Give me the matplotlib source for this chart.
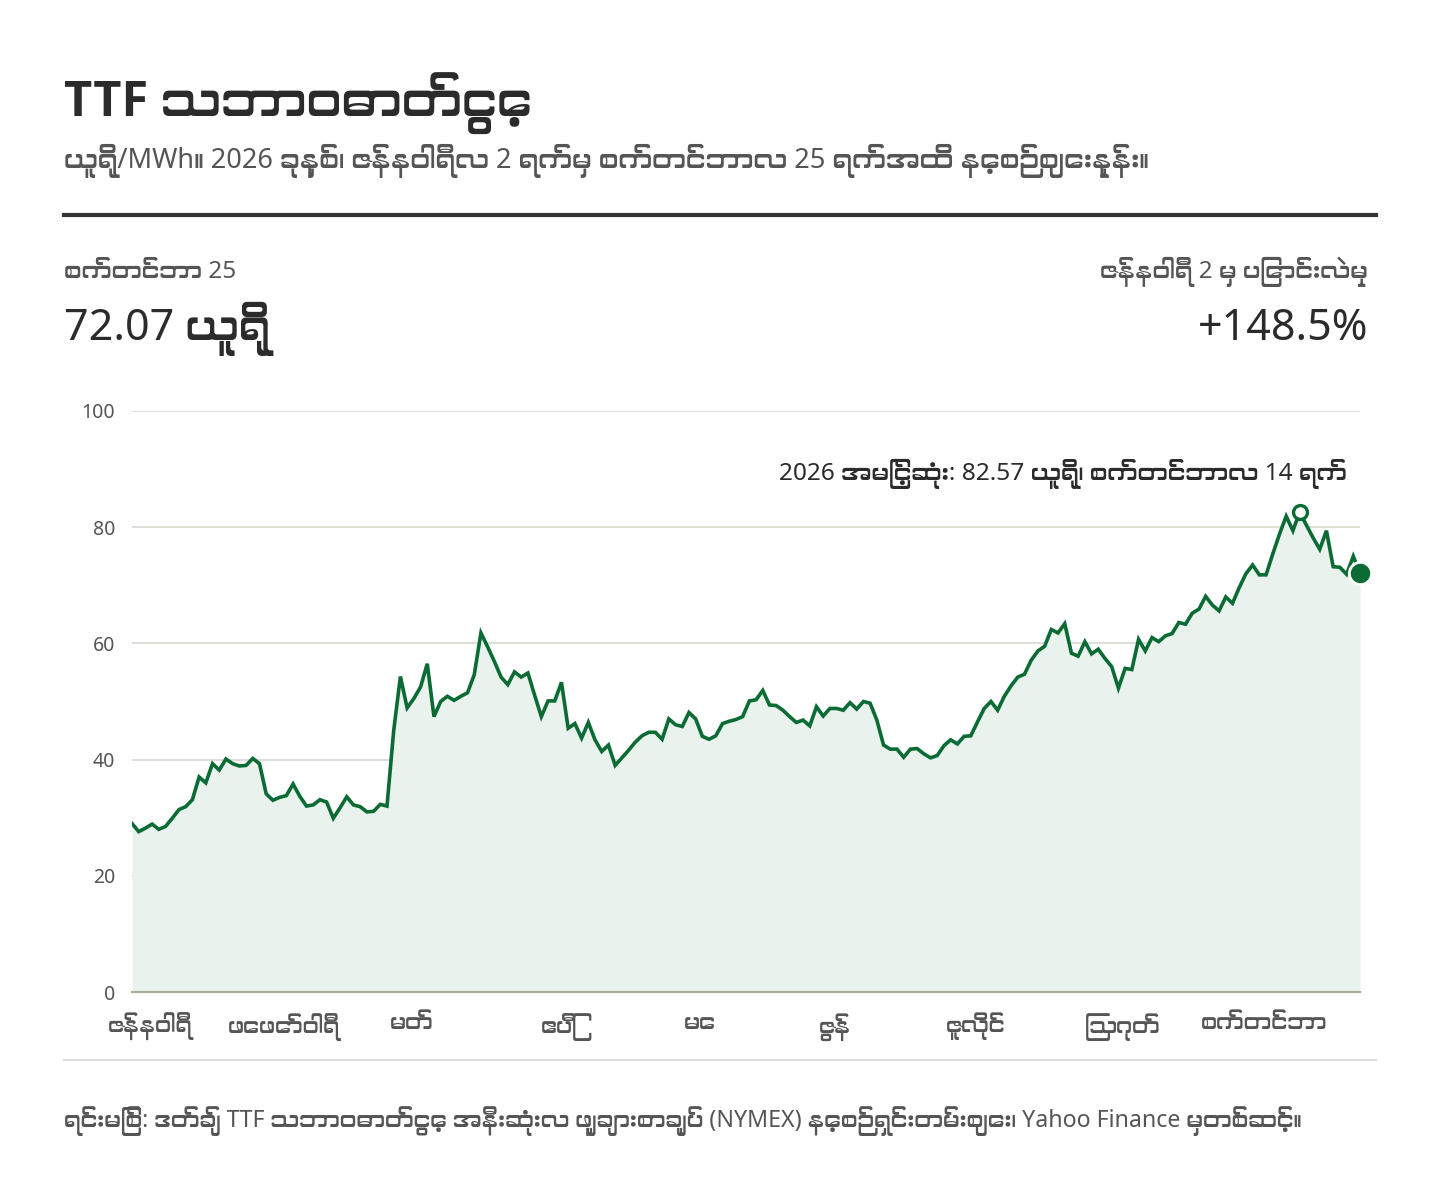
import numpy as np
import pandas as pd
import matplotlib
matplotlib.use("Agg")
import matplotlib.pyplot as plt
import matplotlib.transforms as mtransforms
from matplotlib import font_manager
from matplotlib.ft2font import FT2Font

# --- data ---
holidays = ["2026-01-19", "2026-02-16", "2026-04-03", "2026-05-25",
            "2026-06-19", "2026-07-03", "2026-09-07"]
dates = pd.bdate_range("2026-01-02", "2026-09-25")
dates = dates[~dates.isin(pd.to_datetime(holidays))]

prices = [
    29.0, 27.6, 28.2, 28.9, 28.0, 28.5, 29.9, 31.4, 31.9, 33.1,
    37.0, 36.0, 39.3, 38.2, 40.1, 39.3, 38.9, 39.0, 40.2, 39.3,
    34.1, 33.0, 33.5, 33.8, 35.8, 33.7, 32.0, 32.2, 33.1, 32.7,
    29.9, 31.7, 33.6, 32.2, 31.9, 31.0, 31.1, 32.3, 32.0, 45.0,
    54.3, 48.9, 50.5, 52.5, 56.5, 47.4, 50.0, 50.9, 50.2, 50.9,
    51.5, 54.6, 61.8, 59.4, 56.9, 54.2, 52.9, 55.1, 54.2, 54.9,
    51.1, 47.4, 50.1, 50.1, 53.3, 45.4, 46.2, 43.7, 46.4, 43.4,
    41.4, 42.5, 39.0, 40.3, 41.6, 43.0, 44.1, 44.7, 44.7, 43.5,
    47.0, 46.0, 45.7, 48.1, 47.0, 44.0, 43.5, 44.1, 46.2, 46.6,
    46.9, 47.4, 50.1, 50.3, 51.9, 49.4, 49.3, 48.5, 47.4, 46.4,
    46.8, 45.8, 49.1, 47.5, 48.8, 48.8, 48.5, 49.8, 48.7, 50.0,
    49.7, 46.8, 42.5, 41.8, 41.8, 40.4, 41.8, 41.9, 41.0, 40.3,
    40.7, 42.4, 43.4, 42.7, 44.0, 44.1, 46.5, 48.8, 50.0, 48.5,
    50.9, 52.7, 54.2, 54.7, 57.1, 58.7, 59.5, 62.4, 61.8, 63.4,
    58.3, 57.8, 60.3, 58.2, 59.0, 57.4, 56.0, 52.3, 55.7, 55.5,
    60.7, 58.7, 61.0, 60.3, 61.3, 61.7, 63.6, 63.3, 65.2, 65.9,
    68.1, 66.6, 65.6, 68.0, 66.9, 69.6, 72.0, 73.5, 71.8, 71.8,
    75.4, 78.8, 81.9, 79.4, 82.57, 80.4, 78.2, 76.2, 79.4, 73.2,
    73.1, 71.9, 75.0, 72.07,
]

month_labels = ["ဇန်နဝါရီ", "ဖေဖော်ဝါရီ", "မတ်", "ဧပြီ", "မေ",
                "ဇွန်", "ဇူလိုင်", "ဩဂုတ်", "စက်တင်ဘာ"]
y_ticks = [0, 20, 40, 60, 80, 100]

title = "TTF သဘာဝဓာတ်ငွေ့"
subtitle = "ယူရို/MWh။ 2026 ခုနှစ်၊ ဇန်နဝါရီလ 2 ရက်မှ စက်တင်ဘာလ 25 ရက်အထိ နေ့စဉ်ဈေးနှုန်း။"
last_label = "စက်တင်ဘာ 25"
last_value = "72.07 ယူရို"
change_label = "ဇန်နဝါရီ 2 မှ ပြောင်းလဲမှု"
change_value = "+148.5%"
peak_note = "2026 အမြင့်ဆုံး: 82.57 ယူရို၊ စက်တင်ဘာလ 14 ရက်"
source = ("ရင်းမြစ်: ဒတ်ချ် TTF သဘာဝဓာတ်ငွေ့ အနီးဆုံးလ ဖျူချားစာချုပ် (NYMEX) "
          "နေ့စဉ်ရှင်းတမ်းဈေး၊ Yahoo Finance မှတစ်ဆင့်။")

# --- fonts: find something that can draw Myanmar script ---
mm_family = None
for f in font_manager.fontManager.ttflist:
    if any(k in f.name for k in ("Myanmar", "Padauk", "Pyidaungsu")):
        mm_family = f.name
        break
if mm_family is None:
    for f in font_manager.fontManager.ttflist:
        try:
            if 0x1000 in FT2Font(f.fname).get_charmap():
                mm_family = f.name
                break
        except Exception:
            pass

families = ["Noto Sans"]
bold_families = ["Open Sans"]
if mm_family:
    families.append(mm_family)
    bold_families.append(mm_family)
families.append("DejaVu Sans")
bold_families.append("DejaVu Sans")
plt.rcParams["font.family"] = families

GREEN = "#0b6b34"
DARK = "#2b2b2b"
GREY = "#555555"

W, H = 1440, 1180
fig = plt.figure(figsize=(W / 100, H / 100), dpi=100)


def fx(x):
    return x / W


def fy(y):
    return 1 - y / H


# header
fig.text(fx(64), fy(117), title, fontsize=35, fontweight="bold", color=DARK,
         va="baseline", family=bold_families)
fig.text(fx(64), fy(168), subtitle, fontsize=19.6, color=GREY, va="baseline")
fig.add_artist(plt.Line2D([fx(64), fx(1376)], [fy(215), fy(215)], color="#333333", lw=3))

fig.text(fx(64), fy(278), last_label, fontsize=17.5, color=GREY, va="baseline")
fig.text(fx(64), fy(340), last_value, fontsize=31, color=DARK, va="baseline")
fig.text(fx(1368), fy(278), change_label, fontsize=17.5, color=GREY, va="baseline", ha="right")
fig.text(fx(1368), fy(340), change_value, fontsize=31, color=DARK, va="baseline", ha="right")

# chart
ax = fig.add_axes([fx(132), fy(992), (1360 - 132) / W, (992 - 411) / H])
x = np.arange(len(prices))
ax.fill_between(x, 0, prices, color="#e9f2ec", lw=0, zorder=1)
ax.plot(x, prices, color=GREEN, lw=2.6, solid_joinstyle="miter", zorder=3)

peak_i = int(np.argmax(prices))
ax.plot(peak_i, prices[peak_i], "o", ms=10, mfc="white", mec=GREEN, mew=2.4, zorder=4)
ax.plot(x[-1], prices[-1], "o", ms=16, mfc=GREEN, mec="white", mew=2, zorder=5, clip_on=False)

fig.text(fx(1347), fy(480), peak_note, fontsize=17.6, color=DARK, ha="right", va="baseline")

ax.set_xlim(0, len(prices) - 1)
ax.set_ylim(0, 100)
ax.set_yticks(y_ticks)
ax.grid(axis="y", color="#dcdcd6", lw=1.3, zorder=0)
ax.set_axisbelow(True)

month_starts = [int(np.argmax(dates.month == m)) for m in range(1, 10)]
ax.set_xticks(month_starts)
ax.set_xticklabels(month_labels)

for s in ("top", "right", "left"):
    ax.spines[s].set_visible(False)
ax.spines["bottom"].set_color("#a9ad9f")
ax.spines["bottom"].set_linewidth(1.6)
ax.spines["bottom"].set_zorder(2)
ax.tick_params(axis="y", length=0, pad=12, labelsize=14, labelcolor=GREY)
ax.tick_params(axis="x", length=0, pad=15, labelsize=16, labelcolor=GREY)

shift = mtransforms.ScaledTranslation(18 / 100, 0, fig.dpi_scale_trans)
for lab in ax.get_xticklabels():
    lab.set_transform(lab.get_transform() + shift)

# footer
fig.add_artist(plt.Line2D([fx(64), fx(1376)], [fy(1060), fy(1060)], color="#dddddd", lw=1.5))
fig.text(fx(64), fy(1127), source, fontsize=16.7, color=GREY, va="baseline")

fig.savefig("out.png", dpi=100, facecolor="white")
